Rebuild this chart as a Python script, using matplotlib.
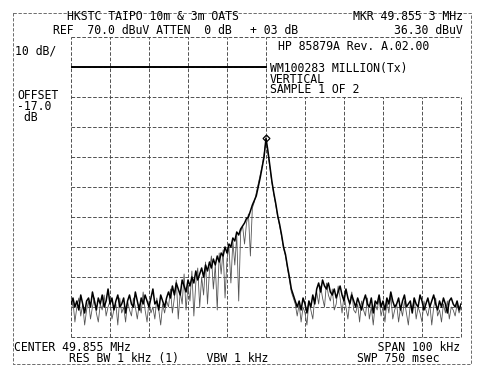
import numpy as np
import matplotlib
matplotlib.use("Agg")
import matplotlib.pyplot as plt
from matplotlib.lines import Line2D

# ---------------- data ----------------
center_mhz = 49.855
span_khz = 100.0
ref_level = 70.0
db_per_div = 10.0
display_line = 60.0
marker_level = 36.30

# dark trace (dBuV), evenly spaced across the span
trace_a = [
    -19, -17, -20, -18, -21, -16, -19, -22, -18, -17,
    -20, -15, -18, -21, -17, -19, -16, -20, -18, -14,
    -19, -17, -21, -18, -16, -20, -19, -17, -22, -18,
    -16, -19, -20, -15, -18, -21, -17, -19, -16, -18,
    -20, -17, -14, -19, -18, -21, -16, -18, -20, -17,
    -15, -17, -13, -16, -12, -14, -16, -11, -13, -15,
    -11, -13, -10, -12, -8, -11, -9, -7, -10, -6,
    -8, -5, -7, -4, -6, -3, -5, -2, -3, 0,
    -2, 1, 0, 3, 2, 5, 4, 6, 7, 8,
    9.5, 10, 12, 14, 15.5, 17, 20, 23, 26.5, 30,
    36.3,
    32, 27, 22, 18, 14.5, 10.5, 7.5, 4, 0, -2.5,
    -6.5, -10, -14, -16, -18,
    -20, -18, -21, -17, -19, -22, -18, -20, -16, -19,
    -14, -12, -15, -11, -13, -14, -12, -15, -16, -14,
    -17, -15, -13, -16, -18, -14, -17, -19, -16, -18,
    -20, -17, -19, -21, -18, -16, -19, -20, -17, -22,
    -18, -19, -16, -20, -18, -21, -17, -19, -15, -18,
    -20, -19, -17, -21, -18, -16, -20, -19, -18, -22,
    -17, -19, -20, -16, -18, -21, -19, -17, -20, -18,
    -16, -19, -21, -18, -20, -17, -19, -22, -18, -17,
    -19, -20, -18, -21, -19,
]

# lighter trace (dBuV)
trace_b = [
    -22, -18, -25, -20, -17, -23, -19, -26, -21, -18,
    -24, -20, -17, -22, -25, -19, -21, -16, -23, -20,
    -18, -24, -21, -19, -26, -17, -22, -20, -25, -18,
    -21, -23, -17, -20, -24, -19, -22, -15, -21, -25,
    -18, -22, -20, -24, -17, -21, -26, -19, -22, -18,
    -20, -14, -22, -17, -11, -24, -15, -19, -9, -21,
    -13, -18, -8, -23, -12, -7, -20, -10, -16, -5,
    -19, -8, -3, -14, -6, -21, -2, -9, -1, -17,
    -4, 0, -12, 2, -6, 4, -18, 5, 7, 1,
    8, 11, -3, 13, 15, 18, 21, 24, 27, 31,
    35.5,
    31, 26.5, 21.5, 17.5, 14, 10, 7, 3.5, -0.5, -3,
    -7, -11, -15, -17, -19,
    -23, -19, -25, -20, -22, -26, -18, -21, -24, -17,
    -15, -19, -13, -17, -20, -12, -16, -18, -14, -21,
    -19, -13, -17, -22, -16, -20, -24, -18, -15, -21,
    -22, -19, -25, -18, -21, -23, -17, -24, -20, -26,
    -19, -21, -17, -23, -20, -25, -18, -22, -16, -24,
    -21, -19, -25, -20, -23, -18, -22, -26, -19, -21,
    -17, -24, -20, -22, -25, -18, -21, -23, -19, -26,
    -20, -17, -23, -21, -25, -19, -22, -18, -24, -20,
    -21, -23, -19, -22, -20,
]

# ---------------- figure ----------------
W, H = 500, 376
fig = plt.figure(figsize=(W / 100, H / 100), dpi=100)
fig.patch.set_facecolor("white")

def fx(x):
    return x / W

def fy(y):
    return 1 - y / H

gx0, gx1, gy0, gy1 = 71, 461, 37, 337
ax = fig.add_axes([fx(gx0), fy(gy1), fx(gx1) - fx(gx0), fy(gy0) - fy(gy1)])
ax.set_axis_off()
half = span_khz / 2
bottom = ref_level - 10 * db_per_div
ax.set_xlim(-half, half)
ax.set_ylim(bottom, ref_level)

gkw = dict(color="#444444", lw=0.65, dashes=(4, 2), zorder=1, clip_on=False)
xdivs = np.linspace(-half, half, 11)
ydivs = np.linspace(bottom, ref_level, 11)
box_bottom = ref_level - 2 * db_per_div
for f in xdivs:
    top = ref_level if f <= 0 else box_bottom
    ax.plot([f, f], [bottom, top], **gkw)
for lv in ydivs:
    if lv > box_bottom and lv < ref_level:
        ax.plot([-half, 0], [lv, lv], **gkw)
    else:
        ax.plot([-half, half], [lv, lv], **gkw)

# display line
ax.plot([-half, 0], [display_line, display_line], color="black", lw=1.4, zorder=3)

# traces
fa = np.linspace(-half, half, len(trace_a))
fb = np.linspace(-half, half, len(trace_b))
ax.plot(fb, trace_b, color="#555555", lw=0.6, zorder=4)
ax.plot(fa, trace_a, color="black", lw=1.1, zorder=5)
imax = int(np.argmax(trace_a))
ax.plot([fa[imax]], [marker_level], marker="D", ms=3.5, mfc="none", mec="black", mew=0.9, zorder=6)

# outer frame
frame = [(13, 13), (471, 13), (471, 364), (13, 364), (13, 13)]
fig.add_artist(Line2D([fx(p[0]) for p in frame], [fy(p[1]) for p in frame],
                      color="#555555", lw=0.6, dashes=(4, 2)))

# texts
tkw = dict(family="DejaVu Sans Mono", fontsize=8.3, color="black")

def t(x, y, s, ha="left", va="center", ls=1.2):
    fig.text(fx(x), fy(y), s, ha=ha, va=va, linespacing=ls, multialignment="left", **tkw)

t(67, 17, "HKSTC TAIPO 10m & 3m OATS")
t(53, 31, "REF  70.0 dBuV ATTEN  0 dB")
t(250, 31, "+ 03 dB")
t(463, 17, "MKR 49.855 3 MHz", ha="right")
t(463, 31, "36.30 dBuV", ha="right")
t(15, 51, "10 dB/")
t(278, 47, "HP 85879A Rev. A.02.00")
t(270, 62, "WM100283 MILLION(Tx)\nVERTICAL\nSAMPLE 1 OF 2", va="top", ls=0.76)
t(17, 89, "OFFSET\n-17.0\n dB", va="top", ls=0.81)
t(14, 341, "CENTER 49.855 MHz\n        RES BW 1 kHz (1)    VBW 1 kHz", va="top", ls=0.8)
t(357, 341, "   SPAN 100 kHz\nSWP 750 msec", va="top", ls=0.8)

fig.savefig("out.png", dpi=100, facecolor="white")
